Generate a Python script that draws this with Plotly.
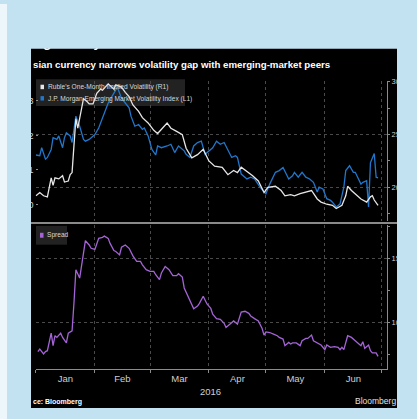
import plotly.graph_objects as go

W, H = 417, 419


def px(x):
    return x / W


def py(y):
    return 1 - y / H


# ---------------- data ----------------
ruble_dates = [
    "2016-01-01", "2016-01-03", "2016-01-05", "2016-01-07", "2016-01-08", "2016-01-09",
    "2016-01-10", "2016-01-11", "2016-01-13", "2016-01-15", "2016-01-16", "2016-01-18",
    "2016-01-19", "2016-01-20", "2016-01-21", "2016-01-22", "2016-01-23", "2016-01-25",
    "2016-01-26", "2016-01-28", "2016-01-29", "2016-01-31", "2016-02-02", "2016-02-04",
    "2016-02-05", "2016-02-08", "2016-02-11", "2016-02-12", "2016-02-15", "2016-02-17",
    "2016-02-19", "2016-02-21", "2016-02-24", "2016-02-26", "2016-02-29", "2016-03-03",
    "2016-03-05", "2016-03-10", "2016-03-12", "2016-03-15", "2016-03-18", "2016-03-20",
    "2016-03-23", "2016-03-26", "2016-03-29", "2016-04-01", "2016-04-04", "2016-04-08",
    "2016-04-11", "2016-04-14", "2016-04-16", "2016-04-18", "2016-04-22", "2016-04-24",
    "2016-04-27", "2016-04-30", "2016-05-02", "2016-05-06", "2016-05-09", "2016-05-11",
    "2016-05-14", "2016-05-16", "2016-05-19", "2016-05-21", "2016-05-23", "2016-05-25",
    "2016-05-28", "2016-05-30", "2016-06-02", "2016-06-05", "2016-06-07", "2016-06-10",
    "2016-06-12", "2016-06-13", "2016-06-15", "2016-06-18", "2016-06-20", "2016-06-23",
    "2016-06-25", "2016-06-26", "2016-06-27", "2016-06-29",
]
ruble_vol = [
    19.2, 19.5, 19.2, 19.1, 20.0, 20.9,
    20.2, 20.9, 20.8, 21.1, 20.5, 20.6,
    21.2, 21.4, 24.0, 26.5, 25.6, 27.5,
    28.4, 28.1, 27.9, 27.9, 28.9, 29.3,
    29.2, 29.8, 29.3, 29.7, 29.5, 29.0,
    28.6, 27.8, 27.2, 26.6, 26.1, 25.4,
    25.1, 26.1, 25.6, 25.3, 25.0, 23.7,
    22.8, 23.1, 23.6, 22.5, 22.0, 21.9,
    21.2, 21.6, 21.4, 21.9, 21.4, 21.1,
    20.6, 19.5, 20.0, 20.1, 19.7, 19.2,
    19.3, 19.2, 19.4, 19.5, 19.6, 19.7,
    18.9, 18.6, 18.4, 18.3, 18.0, 18.3,
    19.2, 20.1, 19.7, 19.2, 18.9, 18.6,
    19.1, 19.2, 18.8, 18.3,
]

em_dates = [
    "2016-01-01", "2016-01-03", "2016-01-04", "2016-01-06", "2016-01-07", "2016-01-09",
    "2016-01-10", "2016-01-12", "2016-01-13", "2016-01-15", "2016-01-16", "2016-01-17",
    "2016-01-19", "2016-01-20", "2016-01-22", "2016-01-24", "2016-01-26", "2016-01-27",
    "2016-01-29", "2016-02-01", "2016-02-03", "2016-02-05", "2016-02-06", "2016-02-08",
    "2016-02-10", "2016-02-12", "2016-02-13", "2016-02-15", "2016-02-17", "2016-02-19",
    "2016-02-20", "2016-02-22", "2016-02-24", "2016-02-26", "2016-02-27", "2016-02-29",
    "2016-03-02", "2016-03-04", "2016-03-05", "2016-03-07", "2016-03-10", "2016-03-12",
    "2016-03-14", "2016-03-16", "2016-03-19", "2016-03-20", "2016-03-22", "2016-03-24",
    "2016-03-26", "2016-03-28", "2016-03-30", "2016-04-02", "2016-04-03", "2016-04-05",
    "2016-04-07", "2016-04-09", "2016-04-10", "2016-04-13", "2016-04-15", "2016-04-16",
    "2016-04-18", "2016-04-21", "2016-04-23", "2016-04-25", "2016-04-28", "2016-05-01",
    "2016-05-03", "2016-05-06", "2016-05-08", "2016-05-09", "2016-05-10", "2016-05-13",
    "2016-05-15", "2016-05-16", "2016-05-18", "2016-05-20", "2016-05-22", "2016-05-24",
    "2016-05-26", "2016-05-28", "2016-05-29", "2016-05-31", "2016-06-02", "2016-06-04",
    "2016-06-05", "2016-06-07", "2016-06-09", "2016-06-11", "2016-06-12", "2016-06-14",
    "2016-06-16", "2016-06-17", "2016-06-20", "2016-06-21", "2016-06-23", "2016-06-24",
    "2016-06-25", "2016-06-27", "2016-06-28", "2016-06-29",
]
em_vol = [
    11.43, 11.41, 11.64, 11.31, 11.36, 11.59,
    11.93, 11.88, 11.98, 11.64, 11.93, 12.07,
    11.98, 11.79, 12.55, 12.26, 11.88, 11.83,
    11.88, 12.02, 12.21, 12.50, 12.59, 12.93,
    13.12, 13.31, 13.36, 13.07, 12.93, 12.79,
    12.55, 12.26, 12.31, 12.17, 12.21, 11.98,
    11.59, 11.43, 11.69, 11.64, 11.69, 11.74,
    11.50, 11.69, 11.55, 11.45, 11.36, 11.69,
    11.79, 11.83, 11.45, 11.59, 11.64, 11.83,
    11.74, 11.79, 11.69, 11.36, 11.41, 11.36,
    10.88, 10.74, 10.79, 10.74, 10.50, 10.31,
    10.59, 10.93, 10.98, 11.02, 11.07, 10.74,
    10.83, 10.93, 10.79, 10.93, 10.79, 10.74,
    10.64, 10.36, 10.50, 10.45, 10.17, 10.12,
    10.07, 9.93, 10.02, 10.50, 10.98, 11.12,
    10.93, 10.93, 10.59, 10.64, 10.69, 9.93,
    11.21, 11.47, 10.79, 10.77,
]

spread_dates = [
    "2016-01-02", "2016-01-03", "2016-01-05", "2016-01-06", "2016-01-07", "2016-01-09",
    "2016-01-10", "2016-01-11", "2016-01-12", "2016-01-14", "2016-01-15", "2016-01-17",
    "2016-01-18", "2016-01-20", "2016-01-21", "2016-01-22", "2016-01-24", "2016-01-26",
    "2016-01-27", "2016-01-29", "2016-01-30", "2016-02-01", "2016-02-03", "2016-02-05",
    "2016-02-06", "2016-02-08", "2016-02-09", "2016-02-11", "2016-02-12", "2016-02-14",
    "2016-02-15", "2016-02-17", "2016-02-19", "2016-02-21", "2016-02-23", "2016-02-25",
    "2016-02-26", "2016-02-28", "2016-03-01", "2016-03-03", "2016-03-04", "2016-03-06",
    "2016-03-07", "2016-03-09", "2016-03-11", "2016-03-13", "2016-03-15", "2016-03-16",
    "2016-03-18", "2016-03-19", "2016-03-22", "2016-03-24", "2016-03-26", "2016-03-27",
    "2016-03-29", "2016-03-31", "2016-04-02", "2016-04-03", "2016-04-05", "2016-04-07",
    "2016-04-09", "2016-04-10", "2016-04-12", "2016-04-14", "2016-04-15", "2016-04-16",
    "2016-04-18", "2016-04-20", "2016-04-22", "2016-04-23", "2016-04-25", "2016-04-27",
    "2016-04-29", "2016-04-30", "2016-05-01", "2016-05-03", "2016-05-05", "2016-05-07",
    "2016-05-08", "2016-05-10", "2016-05-11", "2016-05-13", "2016-05-14", "2016-05-15",
    "2016-05-17", "2016-05-19", "2016-05-20", "2016-05-22", "2016-05-23", "2016-05-25",
    "2016-05-26", "2016-05-28", "2016-05-30", "2016-06-01", "2016-06-02", "2016-06-04",
    "2016-06-06", "2016-06-08", "2016-06-09", "2016-06-10", "2016-06-11", "2016-06-13",
    "2016-06-15", "2016-06-17", "2016-06-18", "2016-06-20", "2016-06-21", "2016-06-22",
    "2016-06-24", "2016-06-25", "2016-06-26", "2016-06-28", "2016-06-29",
]
spread_vals = [
    7.75, 7.95, 7.57, 7.75, 7.82, 9.18,
    8.21, 8.98, 8.85, 9.18, 8.85, 8.42,
    9.18, 9.36, 11.54, 14.11, 13.46, 15.52,
    16.36, 16.03, 15.77, 15.69, 16.54, 16.62,
    16.72, 16.54, 16.15, 15.59, 15.52, 15.26,
    15.85, 16.03, 15.77, 15.18, 14.75, 14.75,
    14.49, 14.11, 13.98, 13.98, 13.72, 13.34,
    13.85, 14.36, 14.11, 13.65, 13.65, 13.80,
    13.54, 12.69, 11.67, 11.08, 11.28, 11.49,
    12.05, 11.45, 11.10, 10.65, 10.31, 10.26,
    9.95, 9.62, 9.88, 10.13, 10.00, 9.88,
    10.82, 10.88, 10.72, 10.52, 10.31, 10.13,
    9.54, 9.03, 9.28, 9.23, 9.11, 8.98,
    8.85, 8.72, 8.21, 8.46, 8.34, 8.42,
    8.42, 8.21, 8.59, 8.77, 8.77, 9.03,
    8.59, 8.42, 8.26, 7.90, 8.26, 8.08,
    8.13, 8.08, 7.90, 8.08, 7.90, 8.98,
    8.85, 8.59, 8.46, 8.21, 8.52, 8.00,
    8.26, 7.82, 7.65, 7.65, 7.38,
]

left_ticks = [10, 11, 12, 13]
right_ticks = [20, 25, 30]
spread_ticks = [10, 15]

series_names = [
    "Ruble's One-Month Implied Volatility (R1)",
    "J.P. Morgan Emerging Market Volatility Index (L1)",
    "Spread",
]
kicker = "ing Affinity on Ruble"
title = "sian currency narrows volatility gap with emerging-market peers"
year_label = "2016"
source = "ce: Bloomberg"
brand = "Bloomberg"

# ---------------- style ----------------
FONT = "Liberation Sans Narrow, Liberation Sans, Arial, sans-serif"
SKY = "#c3e2f1"
PALE = "#edf6fb"
WHITE_LINE = "#e6e6e6"
BLUE_LINE = "#2177cc"
PURPLE_LINE = "#a463d6"
TICK = "#cfcfcf"
AXIS = "#8c8c8c"
GRID = "#4a4a4a"

x_range = ["2015-12-31 18:00", "2016-07-03 17:00"]
x_dom = [px(35.5), px(387)]
top_dom = [py(219), py(78)]
bot_dom = [py(369), py(223)]

fig = go.Figure()
fig.add_trace(go.Scatter(x=em_dates, y=em_vol, xaxis="x2", yaxis="y", mode="lines",
                         line=dict(color=BLUE_LINE, width=1.3), showlegend=False,
                         name=series_names[1]))
fig.add_trace(go.Scatter(x=ruble_dates, y=ruble_vol, xaxis="x2", yaxis="y2", mode="lines",
                         line=dict(color=WHITE_LINE, width=1.3), showlegend=False,
                         name=series_names[0]))
fig.add_trace(go.Scatter(x=spread_dates, y=spread_vals, xaxis="x", yaxis="y3", mode="lines",
                         line=dict(color=PURPLE_LINE, width=1.3), showlegend=False,
                         name=series_names[2]))
# clipped kicker headline (top part hidden behind the page background)
fig.add_trace(go.Scatter(x=[31], y=[40], xaxis="x4", yaxis="y4", mode="text",
                         text=[kicker], textposition="middle right", cliponaxis=False,
                         textfont=dict(family=FONT, size=13.5, color="white", weight="bold"),
                         hoverinfo="skip", showlegend=False))

tickfont = dict(family=FONT, size=9.5, color=TICK)
rtickfont = dict(family=FONT, size=7.5, color=TICK)

shapes = [
    # black chart panel
    dict(type="rect", xref="paper", yref="paper", x0=px(31), x1=px(397), y0=py(408), y1=py(45),
         fillcolor="black", line=dict(width=0), layer="below"),
    # legend boxes
    dict(type="rect", xref="paper", yref="paper", x0=px(36), x1=px(185), y0=py(103), y1=py(76),
         fillcolor="#222222", line=dict(width=0), layer="below"),
    dict(type="rect", xref="paper", yref="paper", x0=px(36), x1=px(67), y0=py(243), y1=py(224),
         fillcolor="#222222", line=dict(width=0), layer="below"),
    # legend swatches
    dict(type="rect", xref="paper", yref="paper", x0=px(40.5), x1=px(44), y0=py(86), y1=py(81.5),
         fillcolor=WHITE_LINE, line=dict(width=0), layer="below"),
    dict(type="rect", xref="paper", yref="paper", x0=px(40.5), x1=px(44), y0=py(97.5), y1=py(93),
         fillcolor=BLUE_LINE, line=dict(width=0), layer="below"),
    dict(type="rect", xref="paper", yref="paper", x0=px(40), x1=px(43.5), y0=py(236), y1=py(231),
         fillcolor=PURPLE_LINE, line=dict(width=0), layer="below"),
    # separator between panels
    dict(type="line", xref="paper", yref="paper", x0=px(31), x1=px(397), y0=py(221), y1=py(221),
         line=dict(color="#8a8a8a", width=2), layer="above"),
    # page background covering the crop edges
    dict(type="rect", xref="paper", yref="paper", x0=0, x1=px(31), y0=0, y1=1,
         fillcolor=SKY, line=dict(width=0), layer="above"),
    dict(type="rect", xref="paper", yref="paper", x0=0, x1=px(7), y0=0, y1=1,
         fillcolor=PALE, line=dict(width=0), layer="above"),
    dict(type="rect", xref="paper", yref="paper", x0=px(31), x1=1, y0=py(45), y1=1,
         fillcolor=SKY, line=dict(width=0), layer="above"),
    dict(type="rect", xref="paper", yref="paper", x0=px(398), x1=1, y0=0, y1=1,
         fillcolor=SKY, line=dict(width=0), layer="above"),
    dict(type="rect", xref="paper", yref="paper", x0=px(31), x1=1, y0=0, y1=py(408),
         fillcolor=SKY, line=dict(width=0), layer="above"),
]

legend_font = dict(family=FONT, size=6.6, color="#d8d8d8")
annotations = [
    dict(x=px(31), y=py(61), xref="paper", yref="paper", xanchor="left", yanchor="middle",
         text=title, showarrow=False,
         font=dict(family=FONT, size=9.7, color="white", weight="bold")),
    dict(x=px(45.5), y=py(84), xref="paper", yref="paper", xanchor="left", yanchor="middle",
         text=series_names[0], showarrow=False, font=legend_font),
    dict(x=px(45.5), y=py(95.5), xref="paper", yref="paper", xanchor="left", yanchor="middle",
         text=series_names[1], showarrow=False, font=legend_font),
    dict(x=px(45), y=py(233.5), xref="paper", yref="paper", xanchor="left", yanchor="middle",
         text=series_names[2], showarrow=False, font=legend_font),
    dict(x=px(211), y=py(391), xref="paper", yref="paper", xanchor="center", yanchor="middle",
         text=year_label, showarrow=False, font=dict(family=FONT, size=9.5, color=TICK)),
    dict(x=px(31), y=py(402), xref="paper", yref="paper", xanchor="left", yanchor="middle",
         text=source, showarrow=False,
         font=dict(family=FONT, size=7, color="white", weight="bold")),
    dict(x=px(398), y=py(401), xref="paper", yref="paper", xanchor="right", yanchor="middle",
         text=brand, showarrow=False, font=dict(family=FONT, size=8.5, color="#e0e0e0")),
]

fig.update_layout(
    width=W, height=H, autosize=False,
    margin=dict(l=0, r=0, t=0, b=0, pad=0),
    paper_bgcolor=SKY, plot_bgcolor="rgba(0,0,0,0)",
    showlegend=False,
    xaxis=dict(domain=x_dom, anchor="y3", type="date", range=x_range,
               dtick="M1", tickformat="%b", ticklabelmode="period",
               ticks="outside", ticklen=3, tickcolor=AXIS, tickfont=tickfont,
               ticklabelstandoff=-3,
               showline=True, linecolor=AXIS, linewidth=1,
               showgrid=True, gridcolor=GRID, griddash="dot", gridwidth=1, zeroline=False),
    xaxis2=dict(domain=x_dom, anchor="y", type="date", matches="x", range=x_range,
                dtick="M1", showticklabels=False, ticks="",
                showline=False, showgrid=True, gridcolor=GRID, griddash="dot", gridwidth=1,
                zeroline=False),
    yaxis=dict(domain=top_dom, anchor="free", position=px(37.5), side="left",
               range=[9.529, 13.557],
               tickvals=left_ticks, ticks="outside", ticklen=2, tickcolor=AXIS,
               tickfont=tickfont,
               showgrid=False, showline=False, zeroline=False),
    yaxis2=dict(overlaying="y", anchor="x2", side="right", range=[16.82, 30.05],
                tickvals=right_ticks, ticks="outside", ticklen=2, tickcolor=AXIS,
                tickfont=rtickfont,
                minor=dict(dtick=2.5, tick0=0, ticks="outside", ticklen=2, tickcolor=AXIS,
                           showgrid=False),
                showline=True, linecolor=AXIS, linewidth=1,
                showgrid=True, gridcolor=GRID, griddash="dot", gridwidth=1, zeroline=False),
    yaxis3=dict(domain=bot_dom, anchor="x", side="right", range=[6.36, 17.59],
                tickvals=spread_ticks, ticks="outside", ticklen=2, tickcolor=AXIS,
                tickfont=rtickfont,
                minor=dict(dtick=2.5, tick0=0, ticks="outside", ticklen=2, tickcolor=AXIS,
                           showgrid=False),
                showline=True, linecolor=AXIS, linewidth=1,
                showgrid=True, gridcolor=GRID, griddash="dot", gridwidth=1, zeroline=False),
    xaxis4=dict(domain=[0, 1], anchor="y4", range=[0, W], visible=False, fixedrange=True),
    yaxis4=dict(domain=[0, 1], anchor="x4", range=[H, 0], visible=False, fixedrange=True),
    shapes=shapes,
    annotations=annotations,
)

fig.write_html("out.html",
               config={"displayModeBar": False},
               post_script="document.body.style.margin='0px';"
                           "document.body.style.overflow='hidden';")
